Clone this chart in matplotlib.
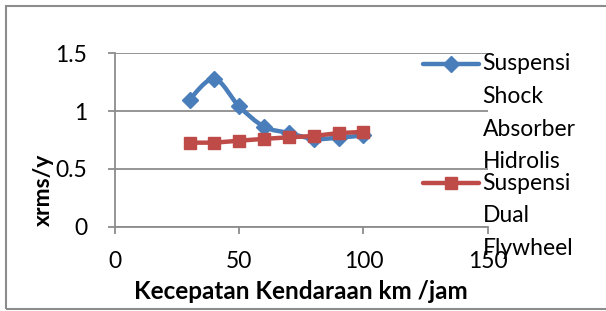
import matplotlib
matplotlib.use("Agg")
import matplotlib.pyplot as plt
import numpy as np
from matplotlib.path import Path
from matplotlib.patches import PathPatch, Rectangle
from matplotlib.lines import Line2D

# ---- data ----
speed = [30, 40, 50, 60, 70, 80, 90, 100]
shock_absorber = [1.10, 1.28, 1.04, 0.865, 0.81, 0.76, 0.77, 0.79]
dual_flywheel = [0.727, 0.727, 0.744, 0.76, 0.773, 0.785, 0.81, 0.82]
series_names = ["Suspensi Shock Absorber Hidrolis", "Suspensi Dual Flywheel"]
x_ticks = [0, 50, 100, 150]
y_ticks = [0, 0.5, 1, 1.5]
y_tick_labels = ["0", "0.5", "1", "1.5"]
x_label = "Kecepatan Kendaraan km /jam"
y_label = "xrms/y"

BLUE = "#4A7EBB"
RED = "#BE4B48"
GRID = "#8C8C8C"
FONT = "Lato"

W, H = 606, 311
fig = plt.figure(figsize=(W / 100, H / 100), dpi=100)
fig.patch.set_facecolor("white")

# outer chart border
fig.patches.append(Rectangle((6 / W, 1 - 309 / H), 1.2, (309 - 6) / H,
                             transform=fig.transFigure, fill=False,
                             edgecolor=GRID, linewidth=1.5))

ax = fig.add_axes([115 / W, 1 - 226.7 / H, (487.7 - 115) / W, (226.7 - 53.3) / H])
ax.set_xlim(0, 150)
ax.set_ylim(0, 1.5)
ax.set_xticks(x_ticks)
ax.set_xticklabels([str(t) for t in x_ticks], fontsize=16.5, family=FONT)
ax.set_yticks(y_ticks)
ax.set_yticklabels(y_tick_labels, fontsize=16.5, family=FONT)
for s in ["top", "right"]:
    ax.spines[s].set_visible(False)
for s in ["left", "bottom"]:
    ax.spines[s].set_color(GRID)
    ax.spines[s].set_linewidth(1.3)
ax.tick_params(axis="both", direction="out", length=5, width=1.3, color=GRID)
ax.tick_params(axis="y", pad=15)
ax.tick_params(axis="x", pad=12.5)
ax.grid(axis="y", color=GRID, linewidth=1.3)
ax.set_axisbelow(True)


def smooth_path(xs, ys):
    xs = np.asarray(xs, float)
    ys = np.asarray(ys, float)
    n = len(xs)
    verts = [(xs[0], ys[0])]
    codes = [Path.MOVETO]
    for i in range(n - 1):
        p0 = np.array([xs[max(i - 1, 0)], ys[max(i - 1, 0)]])
        p1 = np.array([xs[i], ys[i]])
        p2 = np.array([xs[i + 1], ys[i + 1]])
        p3 = np.array([xs[min(i + 2, n - 1)], ys[min(i + 2, n - 1)]])
        c1 = p1 + (p2 - p0) / 6.0
        c2 = p2 - (p3 - p1) / 6.0
        verts += [tuple(c1), tuple(c2), tuple(p2)]
        codes += [Path.CURVE4] * 3
    return Path(verts, codes)


ax.add_patch(PathPatch(smooth_path(speed, shock_absorber), fill=False,
                       edgecolor=BLUE, linewidth=3.2, capstyle="round",
                       joinstyle="round", zorder=3))
ax.plot(speed, shock_absorber, linestyle="none", marker="D", markersize=8,
        color=BLUE, zorder=4)
ax.plot(speed, dual_flywheel, color=RED, linewidth=3.2, marker="s",
        markersize=8.5, solid_capstyle="round", zorder=5)

ax.set_xlabel(x_label, fontsize=17.5, fontweight="bold", family=FONT, labelpad=6)
ax.set_ylabel(y_label, fontsize=16.5, fontweight="bold", family=FONT)
ax.yaxis.set_label_coords(-0.165, 0.215)

# legend (manual, Excel style)
line_gap = 32.6
entries = [(series_names[0], BLUE, "D", 64), (series_names[1], RED, "s", 183.3)]
for name, col, mk, yc in entries:
    yf = 1 - yc / H
    fig.add_artist(Line2D([422.7 / W, 479 / W], [yf, yf], color=col,
                          linewidth=3.2, solid_capstyle="round",
                          transform=fig.transFigure))
    fig.add_artist(Line2D([450.8 / W], [yf], color=col, marker=mk,
                          markersize=8.5 if mk == "s" else 8,
                          transform=fig.transFigure))
    for k, word in enumerate(name.split()):
        fig.text(482.5 / W, 1 - (yc + k * line_gap) / H, word, fontsize=16.5,
                 family=FONT, ha="left", va="center", zorder=1)

fig.savefig("out.png", dpi=100, facecolor="white")
